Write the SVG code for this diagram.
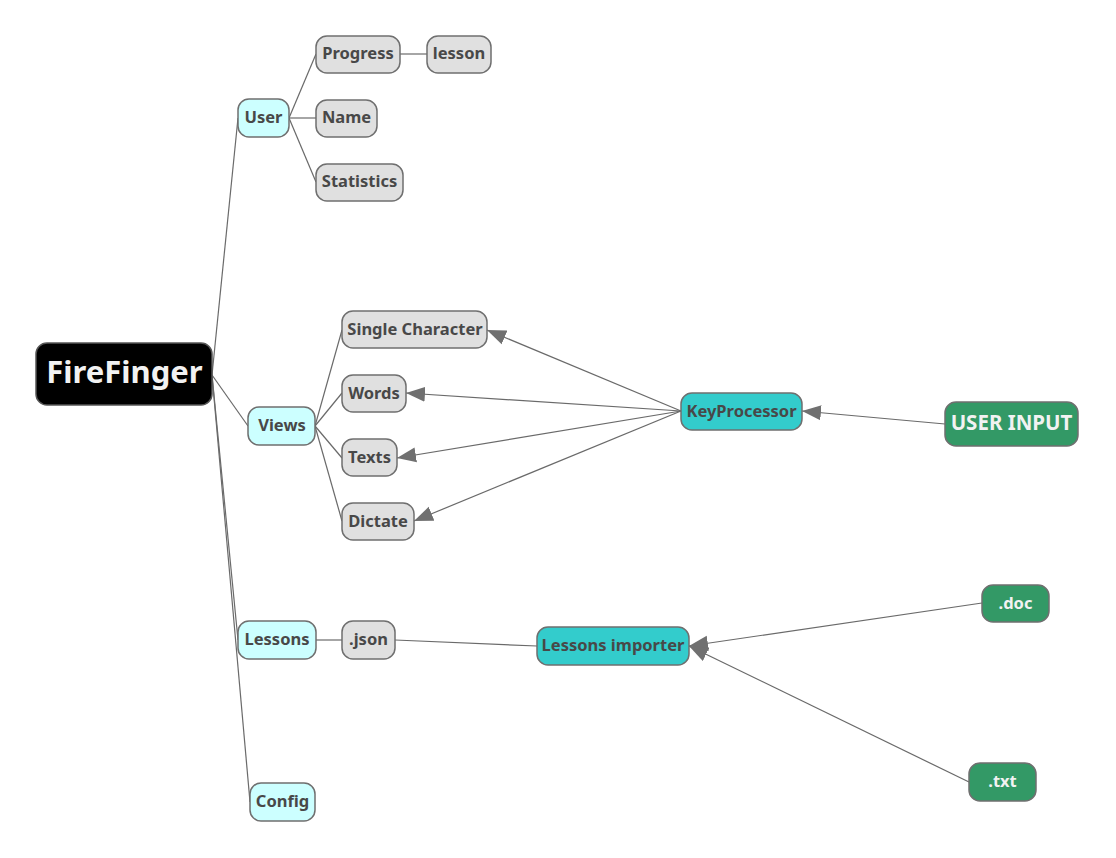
<svg xmlns="http://www.w3.org/2000/svg" width="1116" height="858" viewBox="0 0 1116 858">
<defs>
<marker id="ah" markerUnits="userSpaceOnUse" markerWidth="22" markerHeight="16" refX="19" refY="8" orient="auto">
<path d="M0,0.5 L19,8 L0,15.5 Z" fill="#707070"/>
</marker>
<style>
text{font-family:"Noto Sans","Open Sans","DejaVu Sans",sans-serif;font-weight:bold;text-anchor:middle;dominant-baseline:central}
.g rect{fill:#e0e0e0;stroke:#6f6f6f;stroke-width:1.5}
.g text{fill:#484848;font-size:16.5px}
.c rect{fill:#ccffff;stroke:#6f6f6f;stroke-width:1.5}
.c text{fill:#484848;font-size:16.5px}
.t rect{fill:#33cccc;stroke:#6f6f6f;stroke-width:1.5}
.t text{fill:#484848;font-size:16.5px}
.d rect{fill:#339966;stroke:#6f6f6f;stroke-width:1.5}
.d text{fill:#f2f2f2;font-size:16.5px}
#connectors line{stroke:#6a6a6a;stroke-width:1.2;fill:none}
#connectors .a{marker-end:url(#ah)}
</style>
</defs>
<rect width="1116" height="858" fill="#ffffff"/>
<g id="connectors">
<line x1="212" y1="375" x2="238" y2="118"/>
<line x1="212" y1="375" x2="248" y2="426"/>
<line x1="212" y1="375" x2="238" y2="640"/>
<line x1="212" y1="375" x2="250" y2="802"/>
<line x1="289" y1="118" x2="316" y2="54"/>
<line x1="289" y1="118" x2="316" y2="118"/>
<line x1="289" y1="118" x2="316" y2="182"/>
<line x1="400" y1="54" x2="427" y2="54"/>
<line x1="315" y1="426" x2="342" y2="330"/>
<line x1="315" y1="426" x2="342" y2="393"/>
<line x1="315" y1="426" x2="342" y2="458"/>
<line x1="315" y1="426" x2="342" y2="521"/>
<line x1="316" y1="640" x2="342" y2="640"/>
<line x1="395" y1="640" x2="537" y2="646"/>
<line class="a" x1="681" y1="411" x2="487" y2="330"/>
<line class="a" x1="681" y1="411" x2="406" y2="393"/>
<line class="a" x1="681" y1="411" x2="397" y2="458"/>
<line class="a" x1="681" y1="411" x2="414" y2="521"/>
<line class="a" x1="945" y1="424" x2="802" y2="411"/>
<line class="a" x1="982" y1="603" x2="689" y2="646"/>
<line class="a" x1="969" y1="782" x2="689" y2="646"/>
</g>
<g id="firefinger"><rect x="36" y="343" width="176" height="62" rx="11" fill="#000000" stroke="#555" stroke-width="1.5"/><text x="124.5" y="370.5" style="fill:#f2f2f2;font-size:31px">FireFinger</text></g>
<g id="user" class="c"><rect x="238" y="99" width="51" height="38" rx="11"/><text x="263.5" y="116.5">User</text></g>
<g id="progress" class="g"><rect x="316" y="36" width="84" height="37" rx="11"/><text x="358" y="52.5">Progress</text></g>
<g id="lesson" class="g"><rect x="427" y="36" width="64" height="37" rx="11"/><text x="459" y="52.5">lesson</text></g>
<g id="name" class="g"><rect x="316" y="100" width="61" height="37" rx="11"/><text x="346.5" y="116.5">Name</text></g>
<g id="statistics" class="g"><rect x="316" y="164" width="87" height="37" rx="11"/><text x="359.5" y="180.5">Statistics</text></g>
<g id="views" class="c"><rect x="248" y="407" width="67" height="38" rx="11"/><text x="282" y="424.5">Views</text></g>
<g id="single" class="g"><rect x="342" y="311" width="145" height="37" rx="11"/><text x="415" y="328">Single Character</text></g>
<g id="words" class="g"><rect x="342" y="375" width="64" height="37" rx="11"/><text x="374" y="392">Words</text></g>
<g id="texts" class="g"><rect x="342" y="439" width="55" height="37" rx="11"/><text x="369.5" y="456">Texts</text></g>
<g id="dictate" class="g"><rect x="342" y="503" width="72" height="37" rx="11"/><text x="378" y="520">Dictate</text></g>
<g id="keyprocessor" class="t"><rect x="681" y="393" width="121" height="37" rx="11"/><text x="741.5" y="410">KeyProcessor</text></g>
<g id="userinput" class="d"><rect x="945" y="402" width="133" height="44" rx="11"/><text x="1011.5" y="422" style="font-size:20.5px">USER INPUT</text></g>
<g id="lessons" class="c"><rect x="238" y="621" width="78" height="38" rx="11"/><text x="277" y="638.5">Lessons</text></g>
<g id="json" class="g"><rect x="342" y="621" width="53" height="38" rx="11"/><text x="368.5" y="638.5">.json</text></g>
<g id="importer" class="t"><rect x="537" y="627" width="152" height="38" rx="11"/><text x="613" y="644.5">Lessons importer</text></g>
<g id="doc" class="d"><rect x="982" y="585" width="67" height="37" rx="11"/><text x="1015.5" y="602">.doc</text></g>
<g id="txt" class="d"><rect x="969" y="763" width="67" height="38" rx="11"/><text x="1002.5" y="780.5">.txt</text></g>
<g id="config" class="c"><rect x="250" y="783" width="65" height="38" rx="11"/><text x="282.5" y="800.5">Config</text></g>
</svg>
